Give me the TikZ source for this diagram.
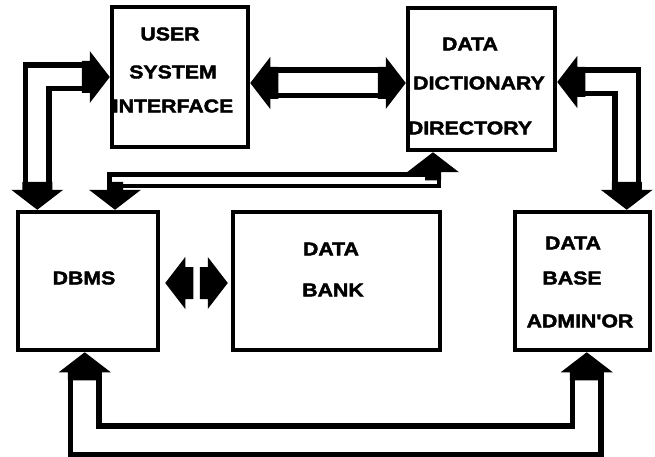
\documentclass[tikz,border=0pt]{standalone}
\usepackage{fontspec}
\newfontfamily\heavyfont{Liberation Sans Bold}[FakeStretch=1.15, FakeBold=2.2]
\usetikzlibrary{calc}
\tikzset{
  box/.style={draw=black, line width=4.5pt, inner sep=0pt, fill=white},
  lbl/.style={font=\heavyfont\fontsize{18.5}{18.5}\selectfont, inner sep=0pt, text=black},
  hollow/.style 2 args={draw=black, line width=#1, double=white, double distance=#2, line join=miter, line cap=butt},
}
\newcommand\myhead[3]{%
  \fill[black, shift={#1}, rotate=#2] (0,0) -- (-20,26) -- (-20,#3) -- (-28,#3) -- (-28,-#3) -- (-20,-#3) -- (-20,-26) -- cycle;}
\begin{document}
\begin{tikzpicture}[x=1pt, y=-1pt]
\useasboundingbox[fill=white] (0,0) rectangle (655,457);
% boxes
\node[box, minimum width=136pt, minimum height=140pt] (usi) at (180,77) {};
\node[box, minimum width=147pt, minimum height=142pt] (ddd) at (481.5,79) {};
\node[box, minimum width=140pt, minimum height=138pt] (dbms) at (88,281) {};
\node[box, minimum width=207pt, minimum height=138pt] (bank) at (336.5,281) {};
\node[box, minimum width=135pt, minimum height=138pt] (dba) at (582.5,281) {};
% texts
\node[lbl] (t1) at (170,34) {USER};
\node[lbl] (t2) at (173,72) {SYSTEM};
\node[lbl] (t3) at (173,106) {INTERFACE};
\node[lbl] (t4) at (470,44) {DATA};
\node[lbl] (t5) at (479,83) {DICTIONARY};
\node[lbl] (t6) at (470,128) {DIRECTORY};
\node[lbl] (t7) at (84,278) {DBMS};
\node[lbl] (t8) at (331,249) {DATA};
\node[lbl] (t9) at (333,290) {BANK};
\node[lbl] (t10) at (573,243) {DATA};
\node[lbl] (t11) at (572,278) {BASE};
\node[lbl] (t12) at (580,321) {ADMIN'OR};
% helper coordinates
\coordinate (dmid) at (0,180);
\coordinate (bot) at (0,440);
% shafts
\draw[hollow={5.5pt}{18pt}] ($(usi.west)+(-22,0)$) -| ($(dbms.north west)+(21.5,-22)$);
\draw[hollow={5.5pt}{20pt}] ($(usi.east)+(22,6)$) -- ($(ddd.west)+(-22,4)$);
\draw[hollow={5.5pt}{18pt}] ($(ddd.east)+(22,3)$) -| ($(dba.north west)+(114,-22)$);
\coordinate (d1) at ($(dbms.north west)+(99.25,-22)$);
\coordinate (d2) at ($(ddd.south west)+(27.25,22)$);
\draw[hollow={4.5pt}{7pt}] (d1) -- (d1 |- dmid) -- (d2 |- dmid) -- (d2);
\coordinate (e1) at ($(dbms.south west)+(69,22)$);
\coordinate (e2) at ($(dba.south west)+(74,22)$);
\draw[hollow={5.5pt}{23pt}] (e1) -- (e1 |- bot) -- (e2 |- bot) -- (e2);
% heads
\myhead{($(usi.west)$)}{0}{16}
\myhead{($(dbms.north west)+(21.5,0)$)}{-90}{15}
\myhead{($(usi.east)+(0,6)$)}{180}{16}
\myhead{($(ddd.west)+(0,4)$)}{0}{16}
\myhead{($(ddd.east)+(0,3)$)}{180}{15}
\myhead{($(dba.north west)+(114,0)$)}{-90}{15}
\myhead{($(dbms.north west)+(99.25,0)$)}{-90}{8}
\myhead{($(ddd.south west)+(27.25,0)$)}{90}{8}
\myhead{($(dbms.south west)+(69,0)$)}{90}{17}
\myhead{($(dba.south west)+(74,0)$)}{90}{17}
\myhead{($(dbms.east)+(5,2)$)}{180}{16}
\myhead{($(bank.west)+(-3,2)$)}{0}{16}
\end{tikzpicture}
\end{document}
